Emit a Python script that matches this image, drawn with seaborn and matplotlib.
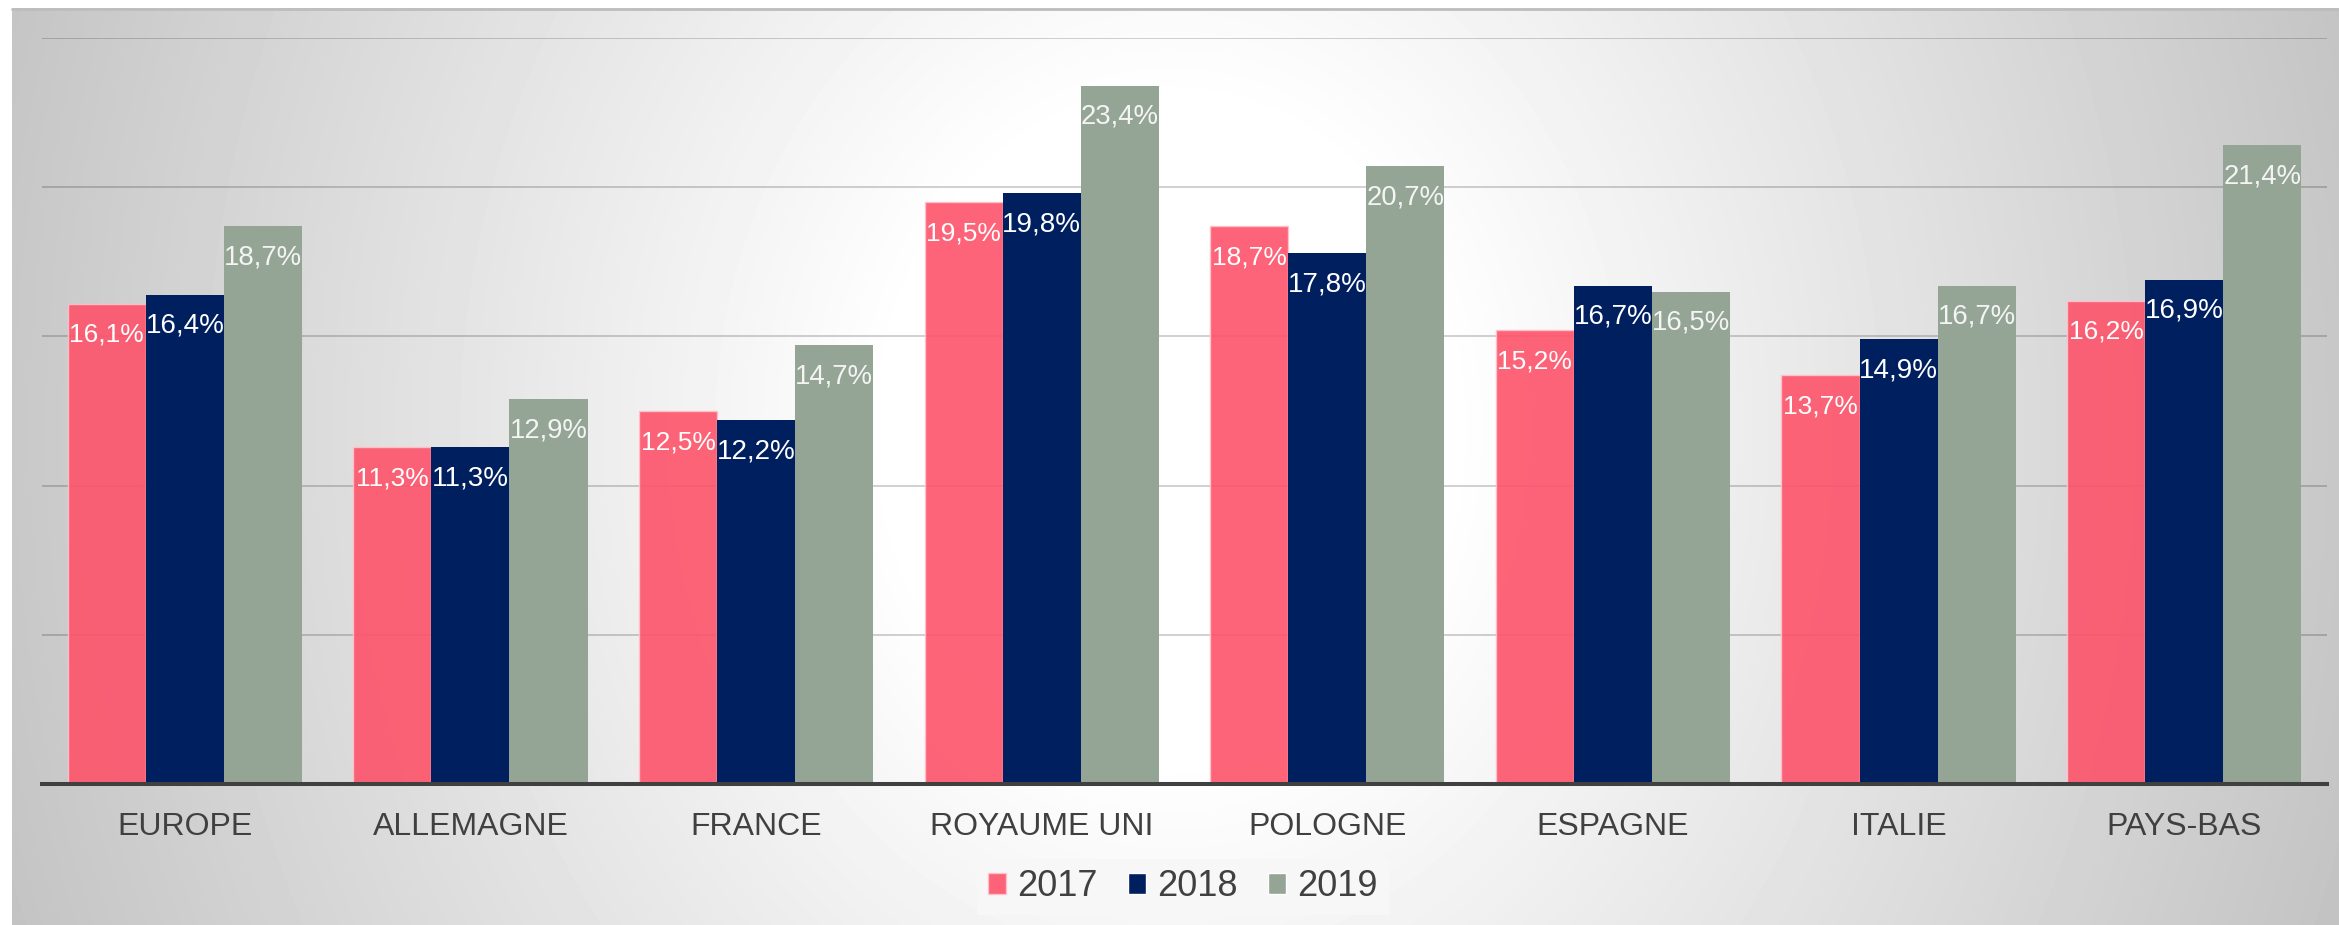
import numpy as np
import pandas as pd
import matplotlib
matplotlib.use("Agg")
import matplotlib.pyplot as plt
import seaborn as sns
from matplotlib.patches import Patch
from matplotlib.lines import Line2D

# ---- data ----
categories = ["EUROPE", "ALLEMAGNE", "FRANCE", "ROYAUME UNI", "POLOGNE", "ESPAGNE", "ITALIE", "PAYS-BAS"]
years = ["2017", "2018", "2019"]
v2017 = [16.1, 11.3, 12.5, 19.5, 18.7, 15.2, 13.7, 16.2]
v2018 = [16.4, 11.3, 12.2, 19.8, 17.8, 16.7, 14.9, 16.9]
v2019 = [18.7, 12.9, 14.7, 23.4, 20.7, 16.5, 16.7, 21.4]
series = [v2017, v2018, v2019]
colors = ["#FE536A", "#001F5F", "#94A596"]

sns.set_theme(style="white")
plt.rcParams["font.family"] = ["Liberation Sans", "DejaVu Sans"]

W, H = 2339, 925
fig = plt.figure(figsize=(W / 100, H / 100), dpi=100)
fig.patch.set_facecolor("white")

# ---- radial gradient background ----
bx0, by0 = 12, 8
bg = fig.add_axes([bx0 / W, 0, 1 - bx0 / W, 1 - by0 / H])
bw, bh = W - bx0, H - by0
xx, yy = np.meshgrid(np.arange(bw) + bx0, np.arange(bh) + by0)
cx, cy = 1170, 430
d = np.sqrt((xx - cx) ** 2 + (0.86 * (yy - cy)) ** 2)
val = np.clip(255 - 0.0625 * np.clip(d - 280, 0, None), 190, 255) / 255.0
bg.imshow(val, cmap="gray", vmin=0, vmax=1, aspect="auto", interpolation="bilinear")
bg.axis("off")
fig.add_artist(Line2D([bx0 / W, 1], [1 - 9 / H, 1 - 9 / H], color="#bdbdbd", lw=2.0,
                      transform=fig.transFigure))

# ---- main axes ----
ax = fig.add_axes([42 / W, 1 - 784 / H, (2327 - 42) / W, (784 - 38) / H])
ax.patch.set_alpha(0)

df = pd.DataFrame({
    "pays": categories * len(years),
    "annee": [y for y in years for _ in categories],
    "valeur": v2017 + v2018 + v2019,
})

sns.barplot(data=df, x="pays", y="valeur", hue="annee", order=categories, hue_order=years,
            palette=colors, width=0.82, saturation=1, legend=False, ax=ax,
            linewidth=0, errorbar=None)

# 2017 bars slightly transparent with light edge
for p in ax.containers[0]:
    p.set_alpha(0.9)
    p.set_edgecolor("#ffc2cb")
    p.set_linewidth(1.0)

ax.set_xlim(-0.5, len(categories) - 0.5)
ax.set_ylim(0, 25)
ax.set_yticks([5, 10, 15, 20, 25])
ax.set_yticklabels([])
ax.yaxis.grid(True, color="#000000", alpha=0.18, lw=1.4)
ax.xaxis.grid(False)
ax.set_axisbelow(True)
for s in ["left", "right", "top"]:
    ax.spines[s].set_visible(False)
ax.spines["bottom"].set_color("#404040")
ax.spines["bottom"].set_linewidth(2.9)
ax.spines["bottom"].set_zorder(5)
ax.tick_params(axis="x", length=0, pad=20, labelsize=23, labelcolor="#404040")
ax.tick_params(axis="y", length=0)
ax.set_xlabel("")
ax.set_ylabel("")

# ---- data labels ----
label_styles = [
    dict(fontsize=19, color="white"),
    dict(fontsize=20, color="white"),
    dict(fontsize=19.8, color="#f4f4f4"),
]
for cont, vals, st in zip(ax.containers, series, label_styles):
    for bar, v in zip(cont, vals):
        txt = f"{v:.1f}".replace(".", ",") + "%"
        ax.annotate(txt, xy=(bar.get_x() + bar.get_width() / 2, bar.get_height()),
                    xytext=(0, -27.5), textcoords="offset points",
                    ha="center", va="baseline", zorder=6, **st)

# ---- legend ----
handles = [Patch(facecolor=colors[0], alpha=0.9, edgecolor="#ffc2cb", linewidth=1.0),
           Patch(facecolor=colors[1]), Patch(facecolor=colors[2])]
leg = fig.legend(handles, years, loc="center", bbox_to_anchor=(1183 / W, 1 - 887 / H), ncol=3,
                 frameon=True, fontsize=26, handlelength=0.5, handleheight=0.5,
                 handletextpad=0.3, columnspacing=0.85, borderpad=0.3,
                 facecolor="#f7f7f7", edgecolor="none", framealpha=1, fancybox=False,
                 labelcolor="#404040")

fig.savefig("out.png", dpi=100)
